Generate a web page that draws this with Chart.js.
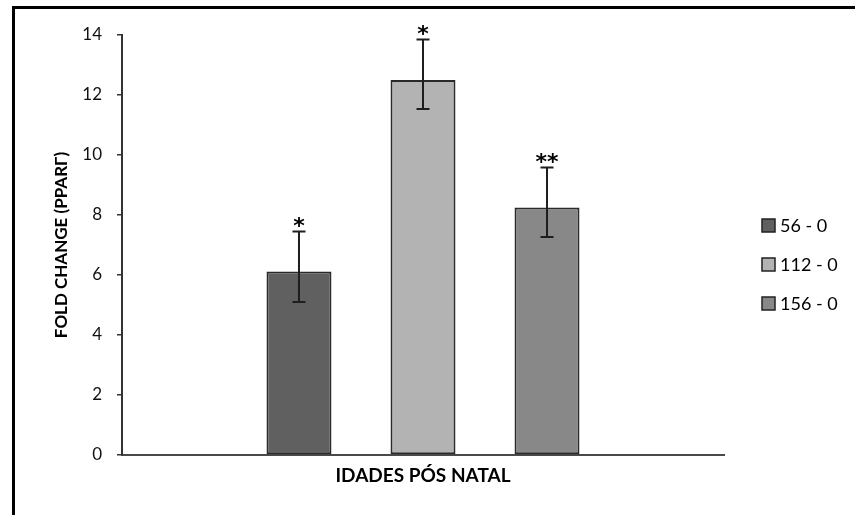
<!DOCTYPE html>
<html>
<head>
<meta charset="utf-8">
<script src="https://cdn.jsdelivr.net/npm/chart.js@4/dist/chart.umd.min.js"></script>
<style>
  html, body { margin: 0; padding: 0; background: #fff; }
  #wrap { position: relative; width: 855px; height: 515px; }
  #frame { position: absolute; left: 12px; top: 6px; right: 0; bottom: 0;
           border-top: 3px solid #000; border-left: 3px solid #000; pointer-events: none; }
  canvas { display: block; }
</style>
</head>
<body>
<div id="wrap">
  <canvas id="c" width="855" height="515"></canvas>
  <div id="frame"></div>
</div>
<script>
// Fold change of PPARΓ expression by post-natal age comparison
const categories = ['IDADES PÓS NATAL'];
const seriesLabels = ['56 - 0', '112 - 0', '156 - 0'];
const seriesValues = [6.12, 12.5, 8.25];
const errorLow = [5.10, 11.53, 7.27];
const errorHigh = [7.45, 13.85, 9.58];
const significance = ['*', '*', '**'];
const yTicks = [0, 2, 4, 6, 8, 10, 12, 14];
const seriesColors = ['#606060', '#b3b3b3', '#888888'];
const xTitle = 'IDADES PÓS NATAL';
const yTitle = 'FOLD CHANGE (PPARΓ)';

const FONT = 'Lato, "Open Sans", sans-serif';
const MARK_FONT = 'bold 22px "DejaVu Sans", sans-serif';
const INK = '#1e1e1e';

// Error bars and significance markers on top of each bar
const errorBars = {
  id: 'errorBars',
  afterDatasetsDraw(chart) {
    const ctx = chart.ctx;
    const y = chart.scales.y;
    ctx.save();
    chart.data.datasets.forEach((ds, i) => {
      const bar = chart.getDatasetMeta(i).data[0];
      if (!bar) return;
      const x = bar.x;
      const yHi = y.getPixelForValue(ds.errHigh);
      const yLo = y.getPixelForValue(ds.errLow);
      ctx.strokeStyle = INK;
      ctx.lineWidth = 2;
      ctx.beginPath();
      ctx.moveTo(x, yLo); ctx.lineTo(x, yHi);
      ctx.moveTo(x - 6.5, yHi); ctx.lineTo(x + 6.5, yHi);
      ctx.moveTo(x - 6.5, yLo); ctx.lineTo(x + 6.5, yLo);
      ctx.stroke();
      // significance marker centred a little above the upper cap
      ctx.font = MARK_FONT;
      ctx.fillStyle = '#000';
      ctx.textAlign = 'center';
      ctx.textBaseline = 'alphabetic';
      const m = ctx.measureText(ds.mark);
      const cy = yHi - 10;
      ctx.fillText(ds.mark, x, cy + (m.actualBoundingBoxAscent - m.actualBoundingBoxDescent) / 2);
    });
    ctx.restore();
  }
};

// Legend column to the right of the plot
const sideLegend = {
  id: 'sideLegend',
  afterDraw(chart) {
    const ctx = chart.ctx;
    ctx.save();
    ctx.font = '18px ' + FONT;
    ctx.textAlign = 'left';
    ctx.textBaseline = 'middle';
    chart.data.datasets.forEach((ds, i) => {
      const cy = 225.5 + i * 39;
      ctx.fillStyle = ds.backgroundColor;
      ctx.fillRect(762, cy - 6.5, 13, 13);
      ctx.strokeStyle = '#222';
      ctx.lineWidth = 1.5;
      ctx.strokeRect(762, cy - 6.5, 13, 13);
      ctx.fillStyle = '#000';
      ctx.fillText(ds.label, 780, cy + 1);
    });
    ctx.restore();
  }
};

const datasets = seriesLabels.map((label, i) => ({
  label: label,
  data: [seriesValues[i]],
  errLow: errorLow[i],
  errHigh: errorHigh[i],
  mark: significance[i],
  backgroundColor: seriesColors[i],
  borderColor: '#2a2a2a',
  borderWidth: 2,
  borderSkipped: false,
  categoryPercentage: 0.618,
  barPercentage: 0.524
}));

new Chart(document.getElementById('c'), {
  type: 'bar',
  data: { labels: categories, datasets: datasets },
  plugins: [errorBars, sideLegend],
  options: {
    responsive: false,
    animation: false,
    layout: { padding: { left: 0, top: 35, right: 131, bottom: 0 } },
    plugins: {
      legend: { display: false },
      tooltip: { enabled: false }
    },
    scales: {
      x: {
        grid: { display: true, drawOnChartArea: false, drawTicks: false },
        border: { display: true, color: '#4a4a4a', width: 2 },
        ticks: { display: false },
        title: {
          display: true, text: xTitle, color: '#000',
          font: { family: FONT, size: 19, weight: 'bold' },
          padding: { top: 0, bottom: 28 }
        },
        afterFit(scale) { scale.height = 60; scale.paddingLeft = 0; scale.paddingRight = 0; }
      },
      y: {
        min: 0, max: 14,
        afterBuildTicks(scale) { scale.ticks = yTicks.map(v => ({ value: v })); },
        grid: { display: true, drawOnChartArea: false, drawTicks: true, tickLength: 5, color: '#333', lineWidth: 1.5 },
        border: { display: true, color: '#333', width: 2 },
        ticks: {
          color: '#111', padding: 15,
          font: { family: FONT, size: 17 }
        },
        title: {
          display: true, text: yTitle, color: '#000',
          font: { family: FONT, size: 17, weight: 'bold' },
          padding: { top: 51, bottom: 0 }
        },
        afterFit(scale) { scale.width = 122; scale.paddingTop = 0; scale.paddingBottom = 0; }
      }
    }
  }
});
</script>
</body>
</html>
